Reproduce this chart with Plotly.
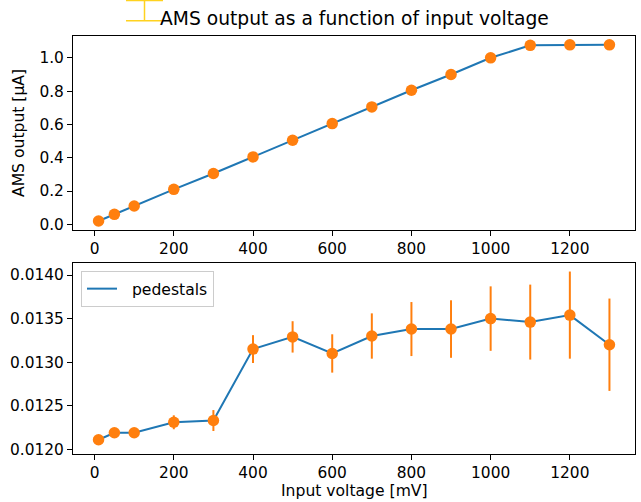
import plotly.graph_objects as go
from plotly.subplots import make_subplots

voltage = [10, 50, 100, 200, 300, 400, 500, 600, 700, 800, 900, 1000, 1100, 1200, 1300]
ams_output = [0.02, 0.06, 0.11, 0.21, 0.305, 0.405, 0.505, 0.605, 0.705, 0.805, 0.90, 1.0, 1.075, 1.078, 1.078]
pedestals = [0.01211, 0.01219, 0.01219, 0.01231, 0.01233, 0.01315, 0.01329, 0.01310, 0.01330,
             0.01338, 0.01338, 0.01350, 0.01346, 0.01354, 0.01320]
pedestal_err = [0.00002, 0.00001, 0.00001, 0.00008, 0.00012, 0.00016, 0.00018, 0.00022, 0.00026,
                0.00031, 0.00033, 0.00037, 0.00043, 0.00050, 0.00053]

BLUE = "#1f77b4"
ORANGE = "#ff7f0e"
FONT = "DejaVu Sans"
TICK_SIZE = 15.4
LABEL_SIZE = 15.6
TITLE_SIZE = 18.7

W, H = 641, 502
L, R, T, B = 73, 6, 36, 48
PW, PH = W - L - R, H - T - B

def px_x(p):
    return (p - L) / PW

def px_y(p):
    return (H - B - p) / PH

fig = make_subplots(rows=2, cols=1, shared_xaxes=False, vertical_spacing=0.08)

fig.add_trace(go.Scatter(x=voltage, y=ams_output, mode="lines",
                         line=dict(color=BLUE, width=2), showlegend=False), row=1, col=1)
fig.add_trace(go.Scatter(x=voltage, y=ams_output, mode="markers",
                         marker=dict(color=ORANGE, size=11.5), showlegend=False), row=1, col=1)

fig.add_trace(go.Scatter(x=voltage, y=pedestals, mode="lines", name="\u00a0\u00a0pedestals",
                         line=dict(color=BLUE, width=2), showlegend=True), row=2, col=1)
fig.add_trace(go.Scatter(x=voltage, y=pedestals, mode="markers",
                         marker=dict(color=ORANGE, size=11.5),
                         error_y=dict(type="data", array=pedestal_err, color=ORANGE,
                                      thickness=2, width=0),
                         showlegend=False), row=2, col=1)

axis_common = dict(showline=True, linecolor="black", linewidth=1, mirror=True,
                   ticks="outside", ticklen=5, tickcolor="black", showgrid=False,
                   zeroline=False, tickfont=dict(family=FONT, size=TICK_SIZE, color="black"))

fig.update_xaxes(range=[-54.5, 1364.5], tickvals=[0, 200, 400, 600, 800, 1000, 1200], **axis_common)
fig.update_yaxes(**axis_common)

fig.update_layout(
    xaxis=dict(domain=[0, 1]),
    xaxis2=dict(domain=[0, 1]),
    yaxis=dict(domain=[px_y(230), 1], range=[-0.034, 1.131], tickvals=[0, 0.2, 0.4, 0.6, 0.8, 1.0],
               tickformat=".1f"),
    yaxis2=dict(domain=[0, px_y(263)], range=[0.011946, 0.014138],
                tickvals=[0.012, 0.0125, 0.013, 0.0135, 0.014], tickformat=".4f"),
)

fig.update_layout(
    width=W, height=H,
    margin=dict(l=L, r=R, t=T, b=B),
    paper_bgcolor="white", plot_bgcolor="white",
    font=dict(family=FONT, size=LABEL_SIZE, color="black"),
    legend=dict(x=px_x(81), y=px_y(271), xanchor="left", yanchor="top",
                bordercolor="#cccccc", borderwidth=1, bgcolor="rgba(255,255,255,0.8)",
                font=dict(family=FONT, size=LABEL_SIZE, color="black"), itemwidth=30,
                tracegroupgap=0),
    annotations=[
        dict(text="AMS output as a function of input voltage", xref="paper", yref="paper",
             x=0.5, y=px_y(18), xanchor="center", yanchor="middle", showarrow=False,
             font=dict(family=FONT, size=TITLE_SIZE, color="black")),
        dict(text="AMS output [μA]", xref="paper", yref="paper", x=px_x(19), y=px_y(133),
             xanchor="center", yanchor="middle", textangle=-90, showarrow=False,
             font=dict(family=FONT, size=LABEL_SIZE, color="black")),
        dict(text="Input voltage [mV]", xref="paper", yref="paper", x=0.5, y=px_y(491),
             xanchor="center", yanchor="middle", showarrow=False,
             font=dict(family=FONT, size=LABEL_SIZE, color="black")),
    ],
    shapes=[
        dict(type="line", xref="paper", yref="paper", x0=px_x(126), x1=px_x(163),
             y0=px_y(0.5), y1=px_y(0.5), line=dict(color="#ffd21f", width=1.5)),
        dict(type="line", xref="paper", yref="paper", x0=px_x(144.5), x1=px_x(144.5),
             y0=px_y(0), y1=px_y(20.7), line=dict(color="#ffd21f", width=1.5)),
        dict(type="line", xref="paper", yref="paper", x0=px_x(126), x1=px_x(163),
             y0=px_y(20.7), y1=px_y(20.7), line=dict(color="#ffd21f", width=1.5)),
    ],
)

fig.write_html("out.html")
